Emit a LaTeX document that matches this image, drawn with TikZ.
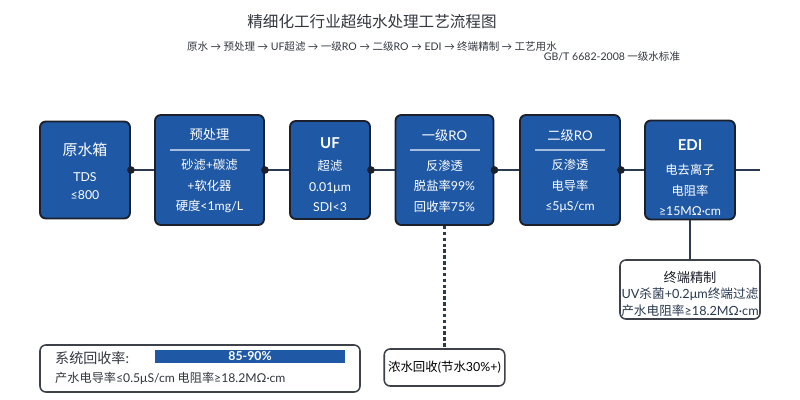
\documentclass[tikz,border=0pt]{standalone}
\usepackage{fontspec}
\setmainfont{Noto Sans CJK SC}
\newfontfamily\latfont{Lato}
\newcommand{\lat}[1]{{\latfont #1}}
\usetikzlibrary{calc,positioning}
\definecolor{stageblue}{RGB}{31,89,166}
\definecolor{rimcol}{RGB}{28,32,42}
\definecolor{pipecol}{RGB}{42,58,80}
\definecolor{sepcol}{RGB}{165,188,222}
\definecolor{inkcol}{RGB}{50,54,62}

\begin{document}
\begin{tikzpicture}[x=0.03cm, y=-0.03cm,
  stage/.style={draw=rimcol, line width=1.6pt, fill=stageblue, rounded corners=5pt},
  note/.style={draw=rimcol!85, line width=1.3pt, fill=white, rounded corners=5pt},
  pipe/.style={draw=pipecol, line width=1.6pt},
  ttl/.style={text=white, inner sep=0pt, font=\fontsize{11.3}{13}\selectfont},
  body/.style={text=white, align=center, inner sep=0pt, font=\fontsize{10.5}{17.4}\selectfont}]
  \useasboundingbox (0,0) rectangle (800,400);

  % header
  \node[text=inkcol, font=\fontsize{13.3}{15}\selectfont] (head) at (372,22) {精细化工行业超纯水处理工艺流程图};
  \node[text=inkcol, font=\fontsize{9}{11}\selectfont] (route) at (372,47)
    {原水 \lat{→} 预处理 \lat{→ UF}超滤 \lat{→} 一级\lat{RO →} 二级\lat{RO → EDI →} 终端精制 \lat{→} 工艺用水};
  \node[text=inkcol, font=\fontsize{9}{11}\selectfont] (norm) at (612,57) {\lat{GB/T 6682-2008} 一级水标准};

  % process stages
  \foreach \nm/\cx/\w/\h in {raw/85/90/97, pre/209.5/109/110, uf/330/80/98,
      roa/444.5/98/110, rob/570/100/110, edi/690/90/99}
    \node[stage, minimum width=\w*0.03cm, minimum height=\h*0.03cm] (\nm) at (\cx,170) {};

  \node[ttl, font=\fontsize{12.8}{14}\selectfont] (raw t) at (85,150) {原水箱};
  \node[body, font=\fontsize{10.5}{16}\selectfont] (raw b) at (85,186) {\lat{TDS}\\\lat{≤800}};

  \node[ttl] (pre t) at (209.5,134) {预处理};
  \draw[sepcol, line width=1.2pt] (170,150) -- (250,150);
  \node[body, font=\fontsize{10.5}{17.8}\selectfont] (pre b) at (209.5,186)
    {砂滤\lat{+}碳滤\\\lat{+}软化器\\硬度\lat{<1mg/L}};

  \node[ttl, font=\fontsize{12.8}{14}\bfseries] (uf t) at (330,143) {\lat{UF}};
  \node[body] (uf b) at (330,186) {超滤\\\lat{0.01μm}\\\lat{SDI<3}};

  \node[ttl] (roa t) at (444.5,135) {一级\lat{RO}};
  \draw[sepcol, line width=1.2pt] (410,150) -- (480,150);
  \node[body] (roa b) at (444.5,186) {反渗透\\脱盐率\lat{99\%}\\回收率\lat{75\%}};

  \node[ttl] (rob t) at (570,135) {二级\lat{RO}};
  \draw[sepcol, line width=1.2pt] (535,150) -- (605,150);
  \node[body] (rob b) at (570,186) {反渗透\\电导率\\\lat{≤5μS/cm}};

  \node[ttl, font=\fontsize{12.8}{14}\bfseries] (edi t) at (690,145) {\lat{EDI}};
  \node[body] (edi b) at (690,190) {电去离子\\电阻率\\\lat{≥15MΩ·cm}};

  % side boxes
  \node[note, minimum width=140*0.03cm, minimum height=59*0.03cm] (polish) at (690,289.5) {};
  \node[text=rimcol, inner sep=0pt, font=\fontsize{11.3}{13}\selectfont] (polish t) at (690,277) {终端精制};
  \node[text=pipecol, align=center, inner sep=0pt, font=\fontsize{10.8}{14.5}\selectfont] (polish b) at (690,302)
    {\lat{UV}杀菌\lat{+0.2μm}终端过滤\\产水电阻率\lat{≥18.2MΩ·cm}};

  \node[note, minimum width=120*0.03cm, minimum height=37*0.03cm, text=black,
    font=\fontsize{10.6}{12}\selectfont] (reject) at (444.5,367.5) {浓水回收\lat{(}节水\lat{30\%+)}};

  \node[note, minimum width=320*0.03cm, minimum height=47*0.03cm] (sum) at (200,368.5) {};
  \node[anchor=west, inner sep=0pt, text=inkcol, font=\fontsize{12}{14}\selectfont] (sum t) at (55,358) {系统回收率\lat{:}};
  \node[fill=stageblue, text=white, inner sep=0pt, minimum width=190*0.03cm, minimum height=13*0.03cm,
    font=\fontsize{10.5}{12}\selectfont] (bar) at (250,356.5) {\lat{\bfseries 85-90\%}};
  \node[anchor=west, inner sep=0pt, text=inkcol, font=\fontsize{10.4}{12}\selectfont] (sum b) at (55,378)
    {产水电导率\lat{≤0.5μS/cm} 电阻率\lat{≥18.2MΩ·cm}};

  % connectors
  \foreach \a/\b in {raw/pre, pre/uf, uf/roa, roa/rob, rob/edi}
    \draw[pipe] (\a.east) -- (\b.west);
  \coordinate (outlet) at (760,170);
  \draw[pipe] (edi.east) -- (outlet);
  \draw[pipe] (edi.south) -- (polish.north);
  \draw[pipe, line width=2pt, dash pattern=on 3pt off 2pt] (roa.south) -- (reject.north);
  \foreach \a in {raw, pre, uf, roa, rob}
    \fill[rimcol] (\a.east) circle[radius=1.15mm];
\end{tikzpicture}
\end{document}
